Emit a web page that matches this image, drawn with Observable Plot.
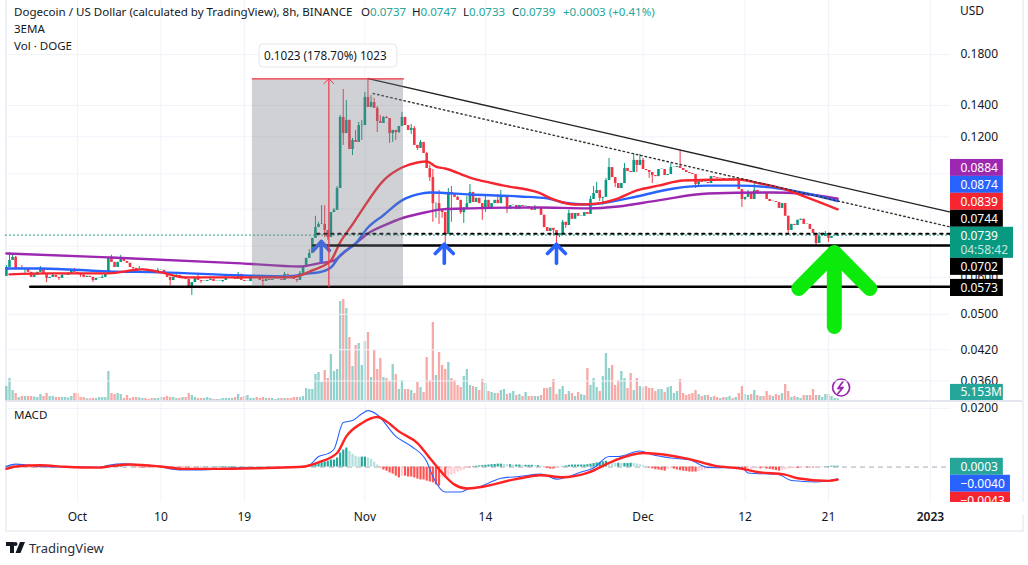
<!DOCTYPE html>
<html><head><meta charset="utf-8">
<script src="https://cdn.jsdelivr.net/npm/d3@7"></script>
<script src="https://cdn.jsdelivr.net/npm/@observablehq/plot@0.6"></script>
<style>
html,body{margin:0;padding:0;background:#fff;overflow:hidden}
#chart{position:relative;width:1028px;height:565px;overflow:hidden;font-family:"Noto Sans",sans-serif;color:#131722}
#chart>svg{position:absolute;left:0;background:transparent}
.frame{position:absolute;left:5px;top:-3px;width:1015px;height:531px;border:2px solid #eef0f6;box-sizing:content-box}
.sep{position:absolute;left:5px;top:400px;width:1017px;height:1.5px;background:#e3e6ee}
.t{position:absolute;font-size:11.55px;white-space:nowrap;line-height:16px}
.g{color:#26a69a}
</style></head><body>
<div id="chart"></div>
<script>
const closes=[.0630,.0652,.0662,.0627,.0627,.0624,.0627,.0615,.0600,.0606,
.0615,.0627,.0609,.0597,.0600,.0606,.0600,.0597,.0606,.0606,
.0609,.0621,.0615,.0609,.0606,.0600,.0603,.0600,.0591,.0597,
.0597,.0600,.0609,.0662,.0646,.0630,.0646,.0656,.0649,.0643,
.0630,.0627,.0621,.0624,.0624,.0621,.0618,.0615,.0618,.0621,
.0621,.0612,.0600,.0591,.0600,.0606,.0600,.0600,.0594,.0571,
.0585,.0600,.0591,.0588,.0588,.0591,.0594,.0588,.0588,.0588,
.0591,.0597,.0597,.0600,.0594,.0609,.0591,.0588,.0588,.0597,
.0600,.0597,.0591,.0588,.0594,.0591,.0594,.0594,.0594,.0591,
.0609,.0606,.0600,.0594,.0591,.0612,.0630,.0659,.0675,.0727,
.0767,.0779,.0779,.0756,.0730,.0826,.0835,.0930,.1320,.1219,
.1301,.1127,.1178,.1167,.1268,.1268,.1457,.1386,.1421,.1380,
.1294,.1281,.1320,.1313,.1219,.1238,.1225,.1262,.1320,.1268,
.1238,.1250,.1150,.1133,.1167,.1105,.1026,.0981,.0863,.0863,
.0835,.0826,.0741,.0912,.0903,.0890,.0877,.0826,.0843,.0863,
.0912,.0868,.0886,.0863,.0843,.0877,.0847,.0863,.0877,.0863,
.0890,.0890,.0839,.0855,.0855,.0839,.0855,.0851,.0851,.0843,
.0835,.0843,.0847,.0815,.0767,.0752,.0764,.0756,.0737,.0745,
.0787,.0775,.0822,.0799,.0822,.0811,.0811,.0826,.0818,.0881,
.0907,.0921,.0886,.0890,.0967,.1031,.0981,.0953,.0930,.0953,
.1026,.1011,.1006,.1068,.1042,.1068,.1021,.1016,.1006,.0991,
.0986,.1021,.1021,.0991,.0996,.1031,.1031,.1036,.1026,.1016,
.1006,.1001,.0996,.0948,.0962,.0958,.0958,.0953,.0986,.0981,
.0977,.0977,.0972,.0972,.0977,.0972,.0972,.0925,.0881,.0890,
.0907,.0881,.0921,.0907,.0912,.0907,.0881,.0872,.0872,.0868,
.0843,.0863,.0811,.0756,.0779,.0775,.0795,.0799,.0779,.0779,
.0760,.0745,.0709,.0734,.0734,.0745,.0727,.0734,.0734,.0739];
const firstOpen=.0603;
const highWicks=[[0,.0636],[1,.0678],[2,.0669],[3,.0665],[5,.0636],[7,.0627],[9,.0612],[11,.0633],[13,.0609],[15,.0612],[18,.0612],[20,.0615],[22,.0627],[25,.0612],[28,.0597],[31,.0606],[34,.0669],[37,.0669],[40,.0636],[43,.0633],[46,.0624],[49,.0627],[55,.0615],[62,.0612],[66,.0600],[71,.0606],[75,.0615],[79,.0603],[83,.0603],[90,.0615],[95,.0618],[96,.0636],[98,.0688],[100,.0811],[101,.0787],[102,.0855],[103,.0855],[106,.0843],[107,.0939],[108,.1332],[109,.1515],[110,.1435],[112,.1190],[113,.1238],[114,.1288],[115,.1301],[116,.1493],[117,.1596],[118,.1470],[119,.1450],[120,.1393],[121,.1332],[122,.1326],[123,.1326],[128,.1353],[129,.1320],[130,.1268],[131,.1275],[132,.1262],[134,.1178],[136,.1111],[137,.1042],[138,.1021],[140,.0921],[143,.0930],[144,.0939],[145,.0907],[146,.0894],[149,.0894],[150,.0948],[155,.0894],[159,.0903],[160,.0921],[171,.0855],[180,.0795],[182,.0835],[189,.0894],[190,.0939],[191,.0958],[194,.0977],[195,.1078],[200,.1052],[203,.1105],[205,.1100],[206,.1078],[215,.1052],[218,.1122],[240,.0921],[242,.0953],[263,.0749],[265,.0752]];
const lowWicks=[[6,.0612],[13,.0585],[17,.0591],[24,.0600],[28,.0585],[41,.0621],[53,.0576],[60,.0549],[63,.0582],[70,.0585],[83,.0574],[94,.0585],[103,.0730],[104,.0720],[109,.1150],[112,.1094],[115,.1178],[120,.1225],[124,.1161],[125,.1167],[126,.1178],[127,.1219],[128,.1268],[131,.1213],[133,.1122],[137,.0962],[138,.0787],[139,.0803],[140,.0779],[141,.0803],[142,.0709],[143,.0741],[144,.0787],[147,.0818],[148,.0783],[154,.0795],[155,.0826],[162,.0822],[177,.0737],[178,.0709],[179,.0730],[181,.0764],[192,.0872],[193,.0855],[197,.0934],[204,.1006],[208,.0977],[209,.0953],[223,.0930],[224,.0939],[238,.0847],[239,.0877],[253,.0745],[262,.0702],[266,.0713]];
const volumesM=[42,66,30,21,9,12,12,12,12,10,9,18,12,21,12,12,9,9,9,9,8,12,21,21,9,9,5,5,6,6,9,9,9,87,21,18,21,18,6,15,6,9,9,8,6,6,3,6,6,6,9,9,12,9,9,6,6,9,9,21,15,9,6,6,6,9,6,3,3,3,6,6,6,6,9,18,9,12,15,6,6,9,6,9,6,6,6,3,6,6,6,6,6,9,9,9,12,36,33,33,78,84,54,90,66,138,87,93,297,303,276,189,102,165,171,105,177,204,69,150,93,126,69,66,57,108,78,33,60,33,33,30,21,54,39,24,129,60,234,75,144,105,93,114,66,60,45,39,72,93,45,42,39,30,63,51,27,24,21,21,30,33,18,21,27,15,18,12,24,12,12,12,12,15,36,36,39,63,18,33,42,18,27,21,12,24,18,15,96,45,66,39,27,72,141,96,105,45,60,87,66,36,81,30,66,42,39,42,36,36,27,33,33,24,39,42,21,27,63,21,15,18,21,30,18,12,15,15,9,12,9,6,9,9,12,6,9,21,42,18,15,18,30,15,12,12,27,15,12,18,15,21,48,27,9,12,9,6,15,15,15,33,15,15,9,18,18,12,6,5];
const histE4=[3,4,4,3,2,1,-1,-2,-3,-3,-3,-3,-2,-2,-2,-2,-1,-1,-1,-1,-1,1,1,1,-1,-1,-2,-2,-2,-2,
-1,-1,1,2,3,3,3,3,2,1,1,-1,-2,-3,-3,-3,-3,-2,-2,-2,-3,-4,-4,-3,-3,-2,-2,-2,-2,-2,
-1,-1,-1,1,1,1,1,1,1,2,2,2,2,2,2,1,1,1,1,1,1,1,1,1,1,1,1,-1,-1,-1,-1,-1,-1,1,1,2,3,5,7,9,
10,14,17,17,20,24,24,31,48,58,65,54,44,37,34,34,34,31,27,17,7,-3,-10,-14,-20,-24,-31,-37,-31,-31,-34,-34,-37,-41,-44,-44,-48,-51,-54,-61,-65,-37,-37,-34,-27,-24,-17,-14,-10,-3,-3,2,3,4,
5,6,7,8,9,10,10,9,8,8,7,7,7,6,6,6,6,5,5,3,-2,-5,-7,-7,-5,-3,2,4,6,7,7,7,7,7,
8,10,12,14,16,18,20,17,14,13,13,12,12,12,13,12,11,8,5,2,-3,-6,-9,-10,-12,-14,-8,-6,-7,-10,-12,-14,-15,-17,-17,-17,-15,-13,-11,-8,-6,-3,-2,-2,-1,-2,-3,-3,-5,-7,-10,-12,-11,-8,-7,-6,-6,-5,-7,-8,-10,-12,-14,-12,-9,-7,-6,-5,-5,-4,-3,-3,-2,-3,-2,-1,-1,1,2,3,3,3];

const emaRedAt=[1,14,33,44,50,58,76,92,99,105,108,112,115,122,128,133,136,139,142,150,161,172,177,184,191,198,204,211,219,237,244,251,259,269];
const emaRed=[.0609,.0612,.0612,.0624,.0615,.0600,.0600,.0600,.0621,.0652,.0713,.0779,.0835,.0967,.1031,.1057,.1062,.1036,.1026,.0981,.0943,.0912,.0881,.0859,.0863,.0886,.0921,.0943,.0967,.0972,.0953,.0930,.0890,.0839];
const emaBlueAt=[0,11,33,50,76,91,98,101,105,108,113,117,122,128,133,137,150,166,175,180,188,194,204,216,227,237,250,259,269];
const emaBlue=[.0627,.0627,.0618,.0615,.0606,.0603,.0612,.0615,.0630,.0669,.0709,.0767,.0815,.0877,.0903,.0912,.0903,.0894,.0886,.0868,.0859,.0868,.0894,.0930,.0943,.0943,.0930,.0907,.0874];
const emaPurpleAt=[0,33,76,95,101,106,110,113,117,123,128,134,141,150,172,188,198,211,227,248,257,269];
const emaPurple=[.0675,.0662,.0643,.0633,.0643,.0652,.0685,.0709,.0745,.0779,.0803,.0822,.0839,.0843,.0847,.0843,.0851,.0877,.0907,.0912,.0907,.0884];

const macdAt=[0,3,6,11,19,30,33,38,44,50,53,59,67,73,84,95,98,101,104,106,109,112,115,117,120,126,131,136,138,142,147,150,153,156,160,166,173,178,186,190,195,198,205,209,215,221,227,238,240,250,254,262,269];
const macdLine=[.0002,.0010,.0008,.0002,0,-.0001,.0006,.0011,.0007,.0002,-.0006,-.0010,-.0008,-.0003,-.0002,0,.0006,.0036,.0046,.0061,.0152,.0159,.0182,.0193,.0179,.0105,.0071,.0019,-.0032,-.0085,-.0085,-.0072,-.0068,-.0055,-.0038,-.0032,-.0024,-.0041,-.0017,-.0003,.0036,.0036,.0055,.0042,.0031,.0025,-.0001,-.0003,-.0020,-.0026,-.0046,-.0051,-.0040];
const signalAt=[0,3,11,19,30,33,40,50,57,67,84,96,101,107,110,115,120,123,127,133,137,141,145,149,153,164,173,180,188,196,206,221,229,238,243,252,256,266,269];
const signalLine=[-.0006,.0002,.0006,.0001,-.0002,.0002,.0009,.0002,-.0006,-.0006,-.0003,.0001,.0016,.0048,.0105,.0150,.0171,.0156,.0122,.0082,.0031,-.0020,-.0060,-.0073,-.0069,-.0043,-.0028,-.0035,-.0020,.0019,.0048,.0027,.0005,-.0006,-.0017,-.0026,-.0038,-.0047,-.0043];

const priceGrid=[.18,.14,.12,.10,.084,.07,.06,.05,.042,.036];
const priceTicks=[.18,.14,.12,.06,.05,.042,.036];
const macdTicks=[.02];
const timeTicksAt=[23,50,77,116,155,206,239,266];
const timeTickLabels=["Oct","10","19","Nov","14","Dec","12","21"];
const yearTickAt=299, yearTickLabel="2023";
const measure={from:.0573,to:.1596,startAt:79.6,endAt:128.5,markerAt:104.35,text:"0.1023 (178.70%) 1023"};
const solidTrend={at:[117.1,305.5],price:[.1599,.0828]};
const dottedTrend={at:[118.7,305.5],price:[.1485,.0769]};
const levels={last:.0739,dotted:.0744,support:.0702,floor:.0573};
const blueArrows=[{at:101.9,tip:.0716,tail:.0649,wing:.0685,half:2.6},{at:141.7,tip:.0706,tail:.0643,wing:.0675,half:2.9},{at:178,tip:.0706,tail:.0643,wing:.0675,half:2.9}];
const greenArrow={at:267.9,tip:.0678,tail:.0471,wing:.0568,half:11.5};
const priceLabels=[
 {text:"0.0884",fill:"#9c27b0",top:.1073,bot:.0987,mid:.1029,end:322.6},
 {text:"0.0874",fill:"#2962ff",top:.0987,bot:.0908,mid:.0946,end:322.6},
 {text:"0.0839",fill:"#f7252f",top:.0908,bot:.0835,mid:.0870,end:322.6},
 {text:"0.0744",fill:"#000000",top:.0835,bot:.0768,mid:.0800,end:322.6},
 {text:"0.0739",fill:"#089981",top:.0768,bot:.0659,mid:.0736,end:325.9},
 {text:"0.0702",fill:"#000000",top:.0659,bot:.0606,mid:.0632,end:322.6},
 {text:"0.0573",fill:"#000000",top:.0594,bot:.0546,mid:.0570,end:322.6},
 {text:"5.153M",fill:"#26a69a",top:.0354,bot:.0327,mid:.0341,end:322.6}];
const countdown={text:"04:58:42",mid:.0685};
const macdLabels=[
 {text:"0.0003",fill:"#26a69a",top:.0030,bot:-.0028,mid:.0001,end:322.6},
 {text:"\u22120.0040",fill:"#2962ff",top:-.0028,bot:-.0086,mid:-.0057,end:324.9},
 {text:"\u22120.0043",fill:"#f7252f",top:-.0086,bot:-.0121,mid:-.0116,end:324.9}];
const boltAt=[270.7,269.1,270.7,269.1], boltVol=[57,36,39,21];

const T0=Date.UTC(2022,8,23,8), H8=8*3600*1000, EDGE=305.5;
const t=i=>new Date(T0+i*H8);
const UP="#089981",DOWN="#f23645",GRID="#f0f3fa",INK="#131722";
const FONT='"Noto Sans",sans-serif';
const xDom=[t(-.29),t(EDGE)];
const highMap=new Map(highWicks),lowMap=new Map(lowWicks);
const bars=closes.map((close,i)=>{
  const open=i?closes[i-1]:firstOpen;
  const up=close>=open;
  const top=Math.max(open,close),bot=Math.min(open,close);
  return {t:t(i),i,open,close,up,top:top===bot?top*1.002:top,bot,
    high:Math.max(highMap.get(i)??top,top),low:Math.min(lowMap.get(i)??bot,bot),
    vol:volumesM[i],hist:(histE4[i]||0)/1e4,prev:i?(histE4[i-1]||0)/1e4:0};
});
const series=(at,vals)=>at.map((a,k)=>({t:t(a),v:vals[k]}));
const arrowPts=a=>[{t:t(a.at),v:a.tail,g:0},{t:t(a.at),v:a.tip,g:0},{t:t(a.at-a.half),v:a.wing,g:1},{t:t(a.at),v:a.tip,g:1},{t:t(a.at+a.half),v:a.wing,g:1}];
const gridX=Plot.gridX([...timeTicksAt,yearTickAt].map(t),{stroke:GRID,strokeOpacity:1});
const curve="monotone-x";

const chart=document.getElementById("chart");
chart.insertAdjacentHTML("beforeend",'<div class="frame"></div><div class="sep"></div>');

/* volume pane, beneath the candles */
const volPlot=Plot.plot({width:1028,height:101,marginTop:0,marginBottom:0,marginLeft:5,marginRight:78,
  style:{background:"transparent"},
  x:{type:"utc",domain:xDom,axis:null},y:{domain:[0,303],axis:null},
  marks:[
   Plot.ruleX(bars,{filter:d=>d.up,x:"t",y1:0,y2:"vol",stroke:"#26a69a",strokeOpacity:.5,strokeWidth:2.3}),
   Plot.ruleX(bars,{filter:d=>!d.up,x:"t",y1:0,y2:"vol",stroke:"#ef5350",strokeOpacity:.5,strokeWidth:2.3}),
   Plot.dot([{t:t(270.1),v:39}],{x:"t",y:"v",r:8.5,stroke:"#9c27b0",strokeWidth:1.7,fill:"#fff"}),
   Plot.line(series(boltAt,boltVol),{x:"t",y:"v",stroke:"#9c27b0",strokeWidth:1.8})
  ]});
volPlot.style.top="299px";
chart.appendChild(volPlot);

/* price pane */
const labelRects=(labels)=>Plot.rect(labels,{x1:()=>t(EDGE),x2:d=>t(d.end),y1:"bot",y2:"top",fill:"fill"});
const labelTexts=(labels)=>Plot.text(labels,{x:()=>t(EDGE+3.2),y:"mid",text:"text",fill:"#fff",fontSize:12,fontFamily:FONT,textAnchor:"start"});
const pricePlot=Plot.plot({width:1028,height:400,marginTop:0,marginBottom:0,marginLeft:5,marginRight:78,
  style:{background:"transparent",overflow:"visible"},
  color:{type:"identity"},
  x:{type:"utc",domain:xDom,axis:null},
  y:{type:"log",domain:[.0327,.2349],axis:null},
  marks:[
   Plot.gridY(priceGrid,{stroke:GRID,strokeOpacity:1}),
   gridX,
   Plot.line([{t:xDom[0],v:levels.last},{t:xDom[1],v:levels.last}],{x:"t",y:"v",stroke:UP,strokeWidth:1,strokeDasharray:"1 3"}),
   Plot.ruleX(bars,{filter:d=>d.up,x:"t",y1:"low",y2:"high",stroke:UP,strokeWidth:1}),
   Plot.ruleX(bars,{filter:d=>!d.up,x:"t",y1:"low",y2:"high",stroke:DOWN,strokeWidth:1}),
   Plot.ruleX(bars,{filter:d=>d.up,x:"t",y1:"bot",y2:"top",stroke:UP,strokeWidth:2.6}),
   Plot.ruleX(bars,{filter:d=>!d.up,x:"t",y1:"bot",y2:"top",stroke:DOWN,strokeWidth:2.6}),
   Plot.line(series(emaPurpleAt,emaPurple),{x:"t",y:"v",stroke:"#9c27b0",strokeWidth:2.4,curve}),
   Plot.line(series(emaBlueAt,emaBlue),{x:"t",y:"v",stroke:"#2962ff",strokeWidth:2.4,curve}),
   Plot.line(series(emaRedAt,emaRed),{x:"t",y:"v",stroke:"#f7252f",strokeWidth:2.4,curve}),
   Plot.line(series(solidTrend.at,solidTrend.price),{x:"t",y:"v",stroke:"#222",strokeWidth:1.3}),
   Plot.line(series(dottedTrend.at,dottedTrend.price),{x:"t",y:"v",stroke:"#333",strokeWidth:1.4,strokeDasharray:"1.5 3"}),
   Plot.line([{t:t(100.6),v:levels.dotted},{t:xDom[1],v:levels.dotted}],{x:"t",y:"v",stroke:"#000",strokeWidth:2.2,strokeDasharray:"2.2 4.8"}),
   Plot.line([{t:t(99.3),v:levels.support},{t:xDom[1],v:levels.support}],{x:"t",y:"v",stroke:"#000",strokeWidth:2.4}),
   Plot.line([{t:t(7.7),v:levels.floor},{t:xDom[1],v:levels.floor}],{x:"t",y:"v",stroke:"#000",strokeWidth:2.4}),
   ...blueArrows.map(a=>Plot.line(arrowPts(a),{x:"t",y:"v",z:"g",stroke:"#2962ff",strokeWidth:3.6})),
   Plot.rect([measure],{x1:d=>t(d.startAt),x2:d=>t(d.endAt),y1:"from",y2:"to",fill:"#787b86",fillOpacity:.35}),
   Plot.line([{t:t(measure.startAt),v:measure.to},{t:t(measure.endAt),v:measure.to}],{x:"t",y:"v",stroke:"#f23645",strokeWidth:1.2}),
   Plot.line([{t:t(measure.markerAt),v:measure.from},{t:t(measure.markerAt),v:measure.to}],{x:"t",y:"v",stroke:"#f23645",strokeWidth:1.2}),
   Plot.line([{t:t(102.75),v:.156},{t:t(104.35),v:measure.to},{t:t(105.95),v:.156}],{x:"t",y:"v",stroke:"#f23645",strokeWidth:1}),
   Plot.line(arrowPts(greenArrow),{x:"t",y:"v",z:"g",stroke:"#0bea0b",strokeWidth:15,strokeLinecap:"round",strokeLinejoin:"miter"}),
   Plot.rect([{a:t(81.9),b:t(126.5),y1:.1688,y2:.1891}],{x1:"a",x2:"b",y1:"y1",y2:"y2",fill:"#fff",stroke:"#e4e6eb",strokeWidth:1,rx:4,ariaLabel:"measure-box"}),
   Plot.text([measure],{x:()=>t(103.2),y:()=>.1787,text:"text",fill:INK,fontSize:11.7,fontFamily:FONT}),
   Plot.axisY(priceTicks,{anchor:"right",tickSize:0,tickPadding:10,tickFormat:d3.format(".4f"),fontSize:12,fontFamily:FONT,color:INK,textAnchor:"start",label:null}),
   labelRects(priceLabels),
   labelTexts(priceLabels),
   Plot.text([countdown],{x:()=>t(EDGE+3.2),y:"mid",text:"text",fill:"#c6e7e0",fontSize:12,fontFamily:FONT,textAnchor:"start"})
  ]});
pricePlot.style.top="0px";
chart.appendChild(pricePlot);
d3.select(pricePlot).selectAll('[aria-label="measure-box"]').style("filter","drop-shadow(0 1px 2px rgba(0,0,0,.25))");

/* MACD pane */
const histColor=d=>d.hist>=0?(d.hist>=d.prev?"#26a69a":"#b2dfdb"):(d.hist<=d.prev?"#ff5252":"#ffcdd2");
const macdPlot=Plot.plot({width:1028,height:129,marginTop:0,marginBottom:28,marginLeft:5,marginRight:78,
  style:{background:"transparent",overflow:"visible"},
  color:{type:"identity"},
  x:{type:"utc",domain:xDom,axis:null},
  y:{domain:[-.0121,.0224],axis:null},
  marks:[
   Plot.gridY(macdTicks,{stroke:GRID,strokeOpacity:1}),
   gridX,
   Plot.ruleY([0],{stroke:"#a8abb4",strokeDasharray:"5 4",strokeWidth:1}),
   Plot.ruleX(bars,{x:"t",y1:0,y2:"hist",stroke:histColor,strokeWidth:2.2}),
   Plot.line(series(macdAt,macdLine),{x:"t",y:"v",stroke:"#2962ff",strokeWidth:1.1,curve}),
   Plot.line(series(signalAt,signalLine),{x:"t",y:"v",stroke:"#ff2222",strokeWidth:2.4,curve}),
   Plot.axisY(macdTicks,{anchor:"right",tickSize:0,tickPadding:10,tickFormat:d3.format(".4f"),fontSize:12,fontFamily:FONT,color:INK,textAnchor:"start",label:null}),
   labelRects(macdLabels),
   labelTexts(macdLabels),
   Plot.rect([{}],{x1:()=>t(EDGE),x2:()=>t(330),y1:()=>-.0121,y2:()=>-.0165,fill:"#fff"}),
   Plot.axisX(timeTicksAt.map(t),{anchor:"bottom",tickSize:0,tickPadding:10,tickFormat:(d,k)=>timeTickLabels[k],fontSize:12,fontFamily:FONT,color:INK,label:null}),
   Plot.axisX([t(yearTickAt)],{anchor:"bottom",tickSize:0,tickPadding:10,tickFormat:()=>yearTickLabel,fontSize:12,fontWeight:600,fontFamily:FONT,color:INK,label:null})
  ]});
macdPlot.style.top="401px";
chart.appendChild(macdPlot);

/* legend text */
chart.insertAdjacentHTML("beforeend",`
<div class="t" style="left:14px;top:4px">Dogecoin / US Dollar (calculated by TradingView), 8h, BINANCE</div>
<div class="t" style="left:361px;top:4px">O<span class="g">0.0737</span></div>
<div class="t" style="left:412px;top:4px">H<span class="g">0.0747</span></div>
<div class="t" style="left:463px;top:4px">L<span class="g">0.0733</span></div>
<div class="t" style="left:512px;top:4px">C<span class="g">0.0739</span></div>
<div class="t g" style="left:563px;top:4px">+0.0003 (+0.41%)</div>
<div class="t" style="left:14px;top:21px">3EMA</div>
<div class="t" style="left:14px;top:38px">Vol · DOGE</div>
<div class="t" style="left:14px;top:407px">MACD</div>
<div class="t" style="left:960px;top:3px;font-size:12px">USD</div>
<svg style="left:6px;top:542px" width="20" height="12" viewBox="0 0 20 12"><path fill="#131722" d="M0 0h8v11H4V4H0zM9.500 0a2 2 0 1 1 0 4a2 2 0 0 1 0-4zM14 0h5l-4.500 11H9.500z"/></svg>
<div class="t" style="left:29px;top:539px;font-size:13px;line-height:18px;color:#2a2e39">TradingView</div>`);
</script></body></html>
